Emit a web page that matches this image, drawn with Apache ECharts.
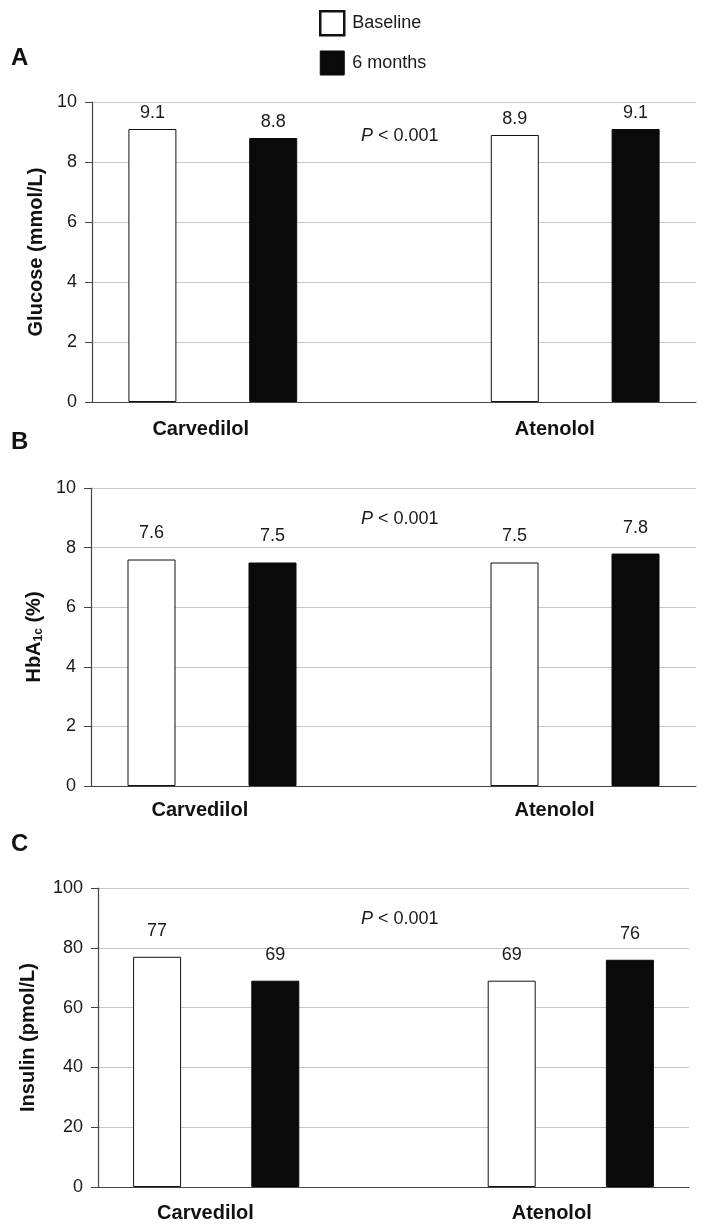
<!DOCTYPE html>
<html>
<head>
<meta charset="utf-8">
<script src="https://cdn.jsdelivr.net/npm/echarts@6/dist/echarts.min.js"></script>
<style>
  html, body { margin: 0; padding: 0; background: #fff; }
  #chart { width: 707px; height: 1230px; }
</style>
</head>
<body>
<div id="chart"></div>
<script>
// ---- data ----
const categories = ['Carvedilol', 'Atenolol'];
const seriesNames = ['Baseline', '6 months'];
const glucoseBaseline = [9.1, 8.9];
const glucoseSixMonths = [8.8, 9.1];
const hba1cBaseline = [7.6, 7.5];
const hba1cSixMonths = [7.5, 7.8];
const insulinBaseline = [77, 69];
const insulinSixMonths = [69, 76];
const glucoseTicks = [0, 2, 4, 6, 8, 10];
const hba1cTicks = [0, 2, 4, 6, 8, 10];
const insulinTicks = [0, 20, 40, 60, 80, 100];
const pText = 'P < 0.001';
const panelLetters = ['A', 'B', 'C'];

// ---- layout helpers ----
const FONT = '"Liberation Sans", Arial, Helvetica, sans-serif';
// slots: [cat0 baseline, cat0 6m, gap, cat1 baseline, cat1 6m]
const slotLabels = [];
categories.forEach((c, i) => {
  if (i > 0) slotLabels.push('');
  slotLabels.push(c, c);
});
function slotData(values, offset) {
  const arr = slotLabels.map(() => '-');
  values.forEach((v, i) => { arr[i * 3 + offset] = v; });
  return arr;
}

const panels = [
  { grid: { left: 92, top: 102, width: 604, height: 300 }, ticks: glucoseTicks,
    name: 'Glucose (mmol/L)', nameGap: 45, base: glucoseBaseline, six: glucoseSixMonths, labelDist: 7, xMargin: 17, pOff: 25 },
  { grid: { left: 91, top: 488, width: 605, height: 298 }, ticks: hba1cTicks,
    name: 'HbA{sub|1c} (%)', nameGap: 45, base: hba1cBaseline, six: hba1cSixMonths, labelDist: 17, xMargin: 14, pOff: 22 },
  { grid: { left: 98, top: 888, width: 591, height: 299 }, ticks: insulinTicks,
    name: 'Insulin (pmol/L)', nameGap: 60, base: insulinBaseline, six: insulinSixMonths, labelDist: 17, xMargin: 16, pOff: 22 }
];

const grids = [], xAxes = [], yAxes = [], series = [], graphics = [];
const letterY = [59, 443, 845];

panels.forEach((p, k) => {
  grids.push(Object.assign({ containLabel: false }, p.grid));
  xAxes.push({
    type: 'category', gridIndex: k, data: slotLabels,
    axisLine: { lineStyle: { color: '#444', width: 1.2 } },
    axisTick: { show: false },
    axisLabel: {
      interval: 0, align: 'left', margin: p.xMargin,
      formatter: (v, i) => (i % 3 === 0 ? v : ''),
      fontFamily: FONT, fontWeight: 'bold', fontSize: 20, color: '#111'
    }
  });
  const step = p.ticks[1] - p.ticks[0];
  yAxes.push({
    type: 'value', gridIndex: k, min: p.ticks[0], max: p.ticks[p.ticks.length - 1], interval: step,
    name: p.name, nameLocation: 'middle', nameGap: p.nameGap, nameRotate: 90,
    nameTextStyle: {
      fontFamily: FONT, fontWeight: 'bold', fontSize: 20, color: '#111',
      rich: { sub: { fontFamily: FONT, fontWeight: 'bold', fontSize: 12, color: '#111', verticalAlign: 'bottom', padding: [10, 0, 0, 0] } }
    },
    axisLine: { show: true, lineStyle: { color: '#444', width: 1.2 } },
    axisTick: { show: true, length: 7, lineStyle: { color: '#444' } },
    axisLabel: { margin: 15, fontFamily: FONT, fontSize: 18, color: '#1a1a1a' },
    splitLine: { show: true, lineStyle: { color: '#c6c6c6', width: 1.2 } }
  });
  const labelCfg = { show: true, position: 'top', distance: p.labelDist, fontFamily: FONT, fontSize: 18, color: '#1a1a1a' };
  series.push({
    name: seriesNames[0], type: 'bar', xAxisIndex: k, yAxisIndex: k,
    data: slotData(p.base, 0), barWidth: 48, barGap: '-100%',
    itemStyle: { color: '#ffffff', borderColor: '#111', borderWidth: 1 },
    label: labelCfg, emphasis: { disabled: true }, animation: false
  });
  series.push({
    name: seriesNames[1], type: 'bar', xAxisIndex: k, yAxisIndex: k,
    data: slotData(p.six, 1), barWidth: 48, barGap: '-100%',
    itemStyle: { color: '#0a0a0a', borderColor: '#0a0a0a', borderWidth: 1 },
    label: labelCfg, emphasis: { disabled: true }, animation: false
  });
  graphics.push({
    type: 'text', left: 361, top: p.grid.top + p.pOff,
    style: {
      text: '{i|P} ' + pText.slice(2), fontFamily: FONT, fontSize: 18, fill: '#1a1a1a',
      rich: { i: { fontFamily: FONT, fontSize: 18, fontStyle: 'italic', color: '#1a1a1a' } }
    }
  });
  graphics.push({
    type: 'text', left: 11, top: letterY[k] - 13,
    style: { text: panelLetters[k], fontFamily: FONT, fontWeight: 'bold', fontSize: 24, fill: '#111' }
  });
});

const chart = echarts.init(document.getElementById('chart'), null, { renderer: 'canvas' });
chart.setOption({
  animation: false,
  backgroundColor: '#ffffff',
  legend: {
    orient: 'vertical', left: 319, top: 10, padding: 0,
    itemWidth: 24, itemHeight: 24, itemGap: 14,
    selectedMode: false,
    data: [
      { name: seriesNames[0], icon: 'rect', itemStyle: { color: '#fff', borderColor: '#111', borderWidth: 2.5 } },
      { name: seriesNames[1], icon: 'rect', itemStyle: { color: '#0a0a0a', borderColor: '#0a0a0a', borderWidth: 1 } }
    ],
    textStyle: { fontFamily: FONT, fontSize: 18, color: '#1a1a1a', padding: [0, 0, 0, 3] }
  },
  grid: grids,
  xAxis: xAxes,
  yAxis: yAxes,
  series: series,
  graphic: graphics
});
</script>
</body>
</html>
